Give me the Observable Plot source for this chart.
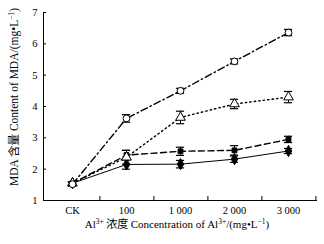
<!DOCTYPE html>
<html><head><meta charset="utf-8">
<script src="https://cdn.jsdelivr.net/npm/d3@7"></script>
<script src="https://cdn.jsdelivr.net/npm/@observablehq/plot@0.6"></script>
<style>body{margin:0;background:#fff} svg{display:block}</style>
</head><body><div id="chart"></div>
<script>
const categories = ["CK", "100", "1 000", "2 000", "3 000"];
const yTicks = [1, 2, 3, 4, 5, 6, 7];
const circleMean   = [1.52, 3.62, 4.50, 5.44, 6.36];
const circleErr    = [0.06, 0.12, 0.08, 0.08, 0.10];
const triangleMean = [1.55, 2.38, 3.65, 4.08, 4.30];
const triangleErr  = [0.05, 0.22, 0.20, 0.15, 0.18];
const squareMean   = [1.55, 2.45, 2.57, 2.60, 2.95];
const squareErr    = [0.05, 0.15, 0.13, 0.15, 0.10];
const diamondMean  = [1.55, 2.15, 2.16, 2.32, 2.58];
const diamondErr   = [0.05, 0.15, 0.12, 0.10, 0.08];

const series = [
  {name: "diamond", mean: diamondMean, err: diamondErr, symbol: "diamond", fill: "black", r: 3.4, dash: null, sw: 1},
  {name: "square", mean: squareMean, err: squareErr, symbol: "square", fill: "black", r: 2.7, dash: "6,3.5", sw: 1.4},
  {name: "triangle", mean: triangleMean, err: triangleErr, symbol: "triangle", fill: "white", r: 3.6, dash: "1.5,3", sw: 1.4},
  {name: "circle", mean: circleMean, err: circleErr, symbol: "circle", fill: "white", r: 3.4, dash: "7,3,1.5,3", sw: 1.4}
];

const marks = [];
for (const s of series) {
  const rows = categories.map((c, i) => ({cat: c, mean: s.mean[i], lo: s.mean[i] - s.err[i], hi: s.mean[i] + s.err[i]}));
  marks.push(Plot.line(rows, {x: "cat", y: "mean", stroke: "black", strokeWidth: s.sw, strokeDasharray: s.dash}));
  marks.push(Plot.ruleX(rows, {x: "cat", y1: "lo", y2: "hi", stroke: "black", strokeWidth: 1}));
  marks.push(Plot.tickY(rows, {x: "cat", y: "lo", stroke: "black", strokeWidth: 1.2, inset: 22.9}));
  marks.push(Plot.tickY(rows, {x: "cat", y: "hi", stroke: "black", strokeWidth: 1.2, inset: 22.9}));
  marks.push(Plot.dot(rows, {x: "cat", y: "mean", symbol: () => s.symbol, fill: s.fill, stroke: "black", strokeWidth: 1, r: s.r}));
}

const plot = Plot.plot({
  width: 324, height: 244,
  marginLeft: 43, marginRight: 7, marginTop: 12, marginBottom: 44,
  style: {fontFamily: "'Liberation Serif', 'Times New Roman', serif", fontSize: "10.5px", background: "#fff", color: "#000"},
  x: {type: "band", domain: categories, padding: 0, axis: null},
  y: {domain: [1, 7], axis: null},
  marks: [
    Plot.frame({anchor: "left", stroke: "black"}),
    Plot.ruleY([1], {stroke: "black"}),
    Plot.axisY({ticks: yTicks, tickSize: -3, tickPadding: 9, label: null, tickFormat: d => String(d)}),
    Plot.axisX({tickSize: 0, tickPadding: 6, label: null}),
    Plot.axisX({tickSize: -4, dx: 27.4, tickFormat: () => "", label: null}),
    ...marks
  ]
});
document.getElementById("chart").appendChild(plot);

const svg = d3.select(plot);
function richText(g, segs) {
  for (const s of segs) {
    const t = g.append("tspan").text(s.t);
    if (s.font) t.attr("font-family", s.font);
    if (s.sup) { t.attr("font-size", "7.5px").attr("dy", -4.5); }
    if (s.after) { t.attr("dy", 4.5); }
  }
}
const cjk = "'Noto Sans CJK SC', sans-serif";
const xt = svg.append("text").attr("x", 177).attr("y", 228).attr("text-anchor", "middle")
  .attr("font-size", "11px").attr("font-family", "'Liberation Serif', serif").attr("fill", "black");
richText(xt, [
  {t: "Al"}, {t: "3+", sup: true}, {t: " 浓度 ", font: cjk, after: true},
  {t: "Concentration of Al"}, {t: "3+", sup: true}, {t: "/(mg•L", after: true}, {t: "−1", sup: true}, {t: ")", after: true}
]);
const yt = svg.append("text").attr("transform", "translate(18,97) rotate(-90)").attr("text-anchor", "middle")
  .attr("font-size", "11.5px").attr("font-family", "'Liberation Serif', serif").attr("fill", "black");
richText(yt, [
  {t: "MDA "}, {t: "含量", font: cjk}, {t: " Content of MDA/(mg•L"}, {t: "−1", sup: true}, {t: ")", after: true}
]);
</script>
</body></html>
